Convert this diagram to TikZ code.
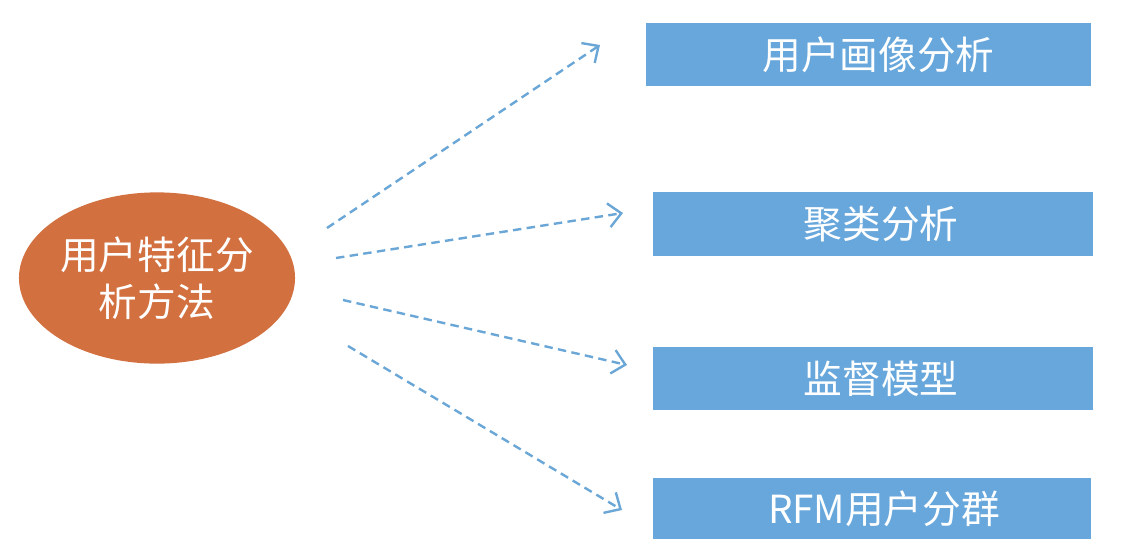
\documentclass[tikz,border=0pt]{standalone}
\usepackage{fontspec}
\usepackage{tikz}
\usetikzlibrary{arrows.meta,shapes.geometric}
\newfontfamily\cjk{Noto Sans CJK SC}
\definecolor{arancio}{HTML}{D2703F}
\definecolor{azzurro}{HTML}{67A7DC}
\definecolor{freccia}{HTML}{6AA6D6}

\begin{document}
\begin{tikzpicture}[x=0.025cm, y=-0.025cm,
    metodo/.style={fill=azzurro, text=white, minimum height=1.58cm, inner sep=0pt,
        font=\cjk\fontsize{27.5}{32}\selectfont},
    collega/.style={draw=freccia, line width=1.7pt, dash pattern=on 6pt off 3.8pt,
        -{Straight Barb[length=9pt, width=17pt]}}]
    \useasboundingbox (0,0) rectangle (1124,554);
    % Nodo centrale
    \node[ellipse, fill=arancio, text=white, minimum width=6.9cm, minimum height=4.28cm,
        inner sep=0pt, align=center, font=\cjk\fontsize{27.5}{33.5}\selectfont]
        (centro) at (157,278) {用户特征分\\析方法};
    % Metodi
    \node[metodo, minimum width=11.12cm] (ritratto) at (868.5,54.5) {\hspace{0.5cm}用户画像分析};
    \node[metodo, minimum width=11cm] (cluster) at (873,224) {\hspace{0.4cm}聚类分析};
    \node[metodo, minimum width=11cm] (modello) at (873,378.5) {\hspace{0.4cm}监督模型};
    \node[metodo, minimum width=10.95cm, minimum height=1.53cm] (rfm) at (872,508.5) {\hspace{0.6cm}RFM用户分群};
    % Estremi delle frecce
    \coordinate (a1) at (327,228);
    \coordinate (a2) at (336,258);
    \coordinate (a3) at (343,300);
    \coordinate (a4) at (348,346);
    \coordinate (f1) at (600,45);
    \coordinate (f2) at (623,213);
    \coordinate (f3) at (627,365);
    \coordinate (f4) at (622,510);
    % Frecce tratteggiate
    \foreach \i in {1,...,4}
        \draw[collega] (a\i) -- (f\i);
\end{tikzpicture}
\end{document}
